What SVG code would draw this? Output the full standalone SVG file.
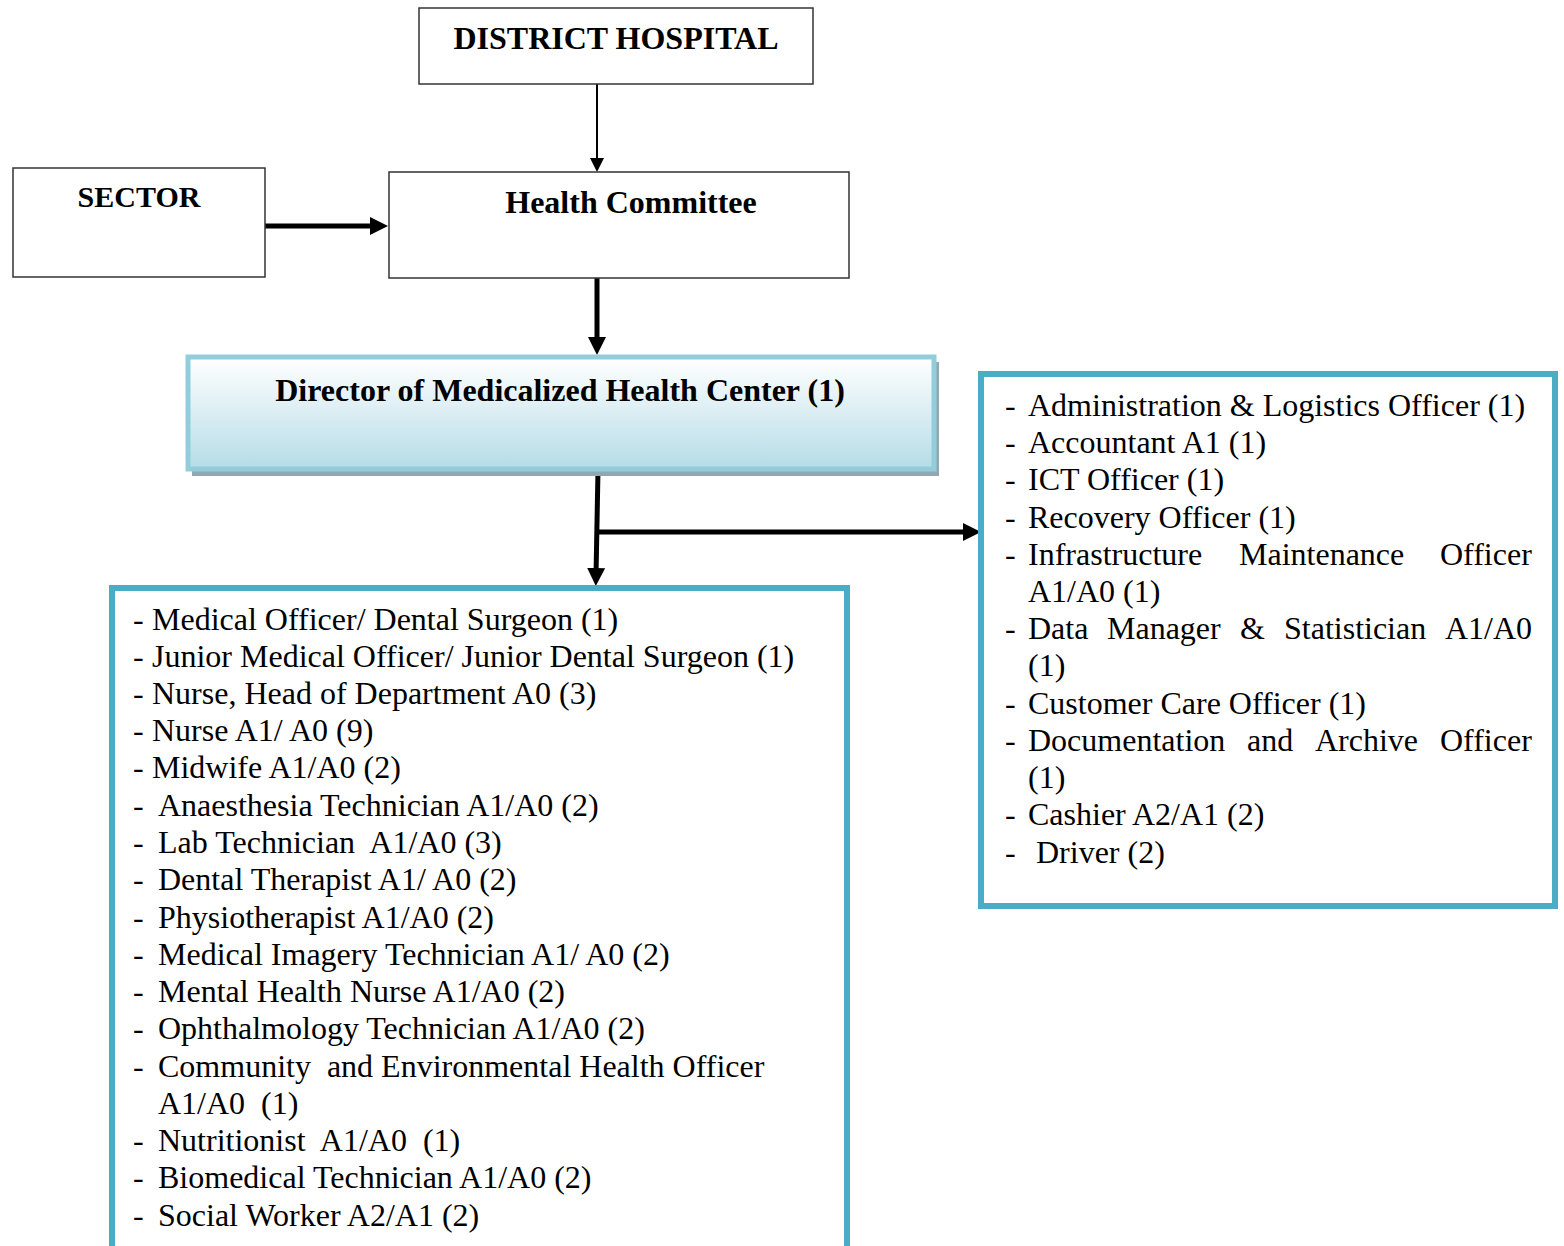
<svg xmlns="http://www.w3.org/2000/svg" width="1564" height="1246" viewBox="0 0 1564 1246">
<style>
.box{fill:#fff;stroke:#333;stroke-width:1.5}
.list{fill:#fff;stroke:#4bacc6;stroke-width:6}
.title{font-family:"Liberation Serif","Times New Roman",serif;font-weight:bold;font-size:32px;fill:#000;text-anchor:middle}
.t{font-family:"Liberation Serif","Times New Roman",serif;font-size:32px;fill:#000;white-space:pre}
.thin{stroke:#000;stroke-width:2;fill:none}
.thick{stroke:#000;stroke-width:5;fill:none}
</style>
<defs>
<linearGradient id="dirFill" x1="0" y1="0" x2="0" y2="1">
<stop offset="0" stop-color="#ffffff"/>
<stop offset="0.35" stop-color="#e6f3f7"/>
<stop offset="1" stop-color="#b5dce7"/>
</linearGradient>
<marker id="arrThin" markerUnits="userSpaceOnUse" markerWidth="14" markerHeight="14" refX="4" refY="7" orient="auto">
<path d="M0,0 L14,7 L0,14 z" fill="#000"/>
</marker>
<marker id="arrThick" markerUnits="userSpaceOnUse" markerWidth="18" markerHeight="18" refX="8" refY="9" orient="auto">
<path d="M0,0 L18,9 L0,18 z" fill="#000"/>
</marker>
</defs>

<g id="connectors">
<line class="thin" x1="597" y1="84" x2="597" y2="162" marker-end="url(#arrThin)"/>
<line class="thick" x1="265" y1="226" x2="378" y2="226" marker-end="url(#arrThick)"/>
<line class="thick" x1="597" y1="278" x2="597" y2="345" marker-end="url(#arrThick)"/>
<line class="thick" x1="598" y1="470" x2="596" y2="576" marker-end="url(#arrThick)"/>
<line class="thick" x1="597" y1="532" x2="971" y2="532" marker-end="url(#arrThick)"/>
</g>

<g id="district-hospital">
<rect class="box" x="419" y="8" width="394" height="76"/>
<text class="title" x="616" y="49">DISTRICT HOSPITAL</text>
</g>

<g id="sector">
<rect class="box" x="13" y="168" width="252" height="109"/>
<text class="title" x="139" y="207" style="font-size:30px">SECTOR</text>
</g>

<g id="health-committee">
<rect class="box" x="389" y="172" width="460" height="106"/>
<text class="title" x="631" y="213">Health Committee</text>
</g>

<g id="director">
<rect x="192" y="362" width="747" height="114" fill="#8fa8b2"/>
<rect x="188" y="357" width="746" height="112" fill="url(#dirFill)" stroke="#92cddc" stroke-width="5"/>
<text class="title" x="560" y="401">Director of Medicalized Health Center (1)</text>
</g>

<g id="clinical-staff">
<rect class="list" x="112" y="588" width="735" height="680"/>
<text class="t" y="630"><tspan x="133">-</tspan><tspan x="152">Medical Officer/ Dental Surgeon (1)</tspan></text>
<text class="t" y="667"><tspan x="133">-</tspan><tspan x="152">Junior Medical Officer/ Junior Dental Surgeon (1)</tspan></text>
<text class="t" y="704"><tspan x="133">-</tspan><tspan x="152">Nurse, Head of Department A0 (3)</tspan></text>
<text class="t" y="741"><tspan x="133">-</tspan><tspan x="152">Nurse A1/ A0 (9)</tspan></text>
<text class="t" y="778"><tspan x="133">-</tspan><tspan x="152">Midwife A1/A0 (2)</tspan></text>
<text class="t" y="816"><tspan x="133">-</tspan><tspan x="158">Anaesthesia Technician A1/A0 (2)</tspan></text>
<text class="t" y="853"><tspan x="133">-</tspan><tspan x="158">Lab Technician  A1/A0 (3)</tspan></text>
<text class="t" y="890"><tspan x="133">-</tspan><tspan x="158">Dental Therapist A1/ A0 (2)</tspan></text>
<text class="t" y="928"><tspan x="133">-</tspan><tspan x="158">Physiotherapist A1/A0 (2)</tspan></text>
<text class="t" y="965"><tspan x="133">-</tspan><tspan x="158">Medical Imagery Technician A1/ A0 (2)</tspan></text>
<text class="t" y="1002"><tspan x="133">-</tspan><tspan x="158">Mental Health Nurse A1/A0 (2)</tspan></text>
<text class="t" y="1039"><tspan x="133">-</tspan><tspan x="158">Ophthalmology Technician A1/A0 (2)</tspan></text>
<text class="t" y="1077"><tspan x="133">-</tspan><tspan x="158">Community  and Environmental Health Officer</tspan></text>
<text class="t" x="158" y="1114">A1/A0  (1)</text>
<text class="t" y="1151"><tspan x="133">-</tspan><tspan x="158">Nutritionist  A1/A0  (1)</tspan></text>
<text class="t" y="1188"><tspan x="133">-</tspan><tspan x="158">Biomedical Technician A1/A0 (2)</tspan></text>
<text class="t" y="1226"><tspan x="133">-</tspan><tspan x="158">Social Worker A2/A1 (2)</tspan></text>
</g>

<g id="admin-staff">
<rect class="list" x="981" y="374" width="574" height="532"/>
<text class="t" y="416"><tspan x="1005">-</tspan><tspan x="1028">Administration &amp; Logistics Officer (1)</tspan></text>
<text class="t" y="453"><tspan x="1005">-</tspan><tspan x="1028">Accountant A1 (1)</tspan></text>
<text class="t" y="490"><tspan x="1005">-</tspan><tspan x="1028">ICT Officer (1)</tspan></text>
<text class="t" y="528"><tspan x="1005">-</tspan><tspan x="1028">Recovery Officer (1)</tspan></text>
<text class="t" y="565"><tspan x="1005">-</tspan><tspan x="1028">Infrastructure</tspan><tspan x="1239">Maintenance</tspan><tspan x="1440">Officer</tspan></text>
<text class="t" x="1028" y="602">A1/A0 (1)</text>
<text class="t" y="639"><tspan x="1005">-</tspan><tspan x="1028">Data</tspan><tspan x="1107">Manager</tspan><tspan x="1240">&amp;</tspan><tspan x="1284">Statistician</tspan><tspan x="1445">A1/A0</tspan></text>
<text class="t" x="1028" y="676">(1)</text>
<text class="t" y="714"><tspan x="1005">-</tspan><tspan x="1028">Customer Care Officer (1)</tspan></text>
<text class="t" y="751"><tspan x="1005">-</tspan><tspan x="1028">Documentation</tspan><tspan x="1247">and</tspan><tspan x="1315">Archive</tspan><tspan x="1440">Officer</tspan></text>
<text class="t" x="1028" y="788">(1)</text>
<text class="t" y="825"><tspan x="1005">-</tspan><tspan x="1028">Cashier A2/A1 (2)</tspan></text>
<text class="t" y="863"><tspan x="1005">-</tspan><tspan x="1036">Driver (2)</tspan></text>
</g>
</svg>
